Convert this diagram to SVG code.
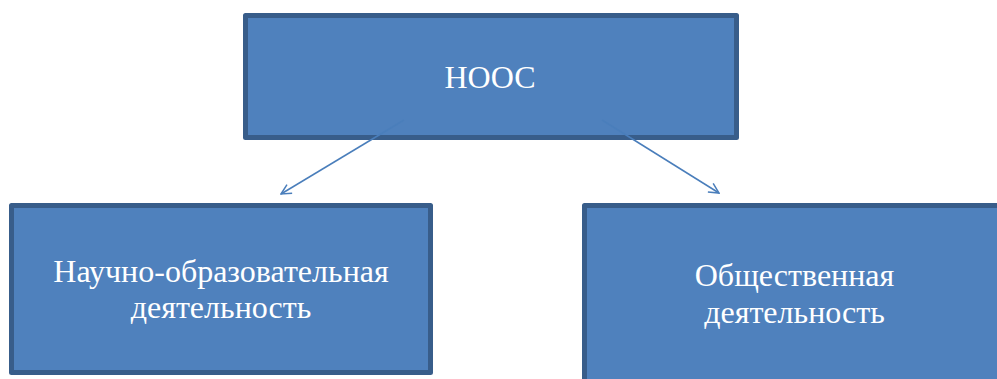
<svg xmlns="http://www.w3.org/2000/svg" width="997" height="379" viewBox="0 0 997 379">
<style>
.box{fill:#4f81bd;stroke:#385d8a;stroke-width:5;stroke-linejoin:round}
.t{font-family:"Liberation Serif","Times New Roman",serif;font-size:32px;fill:#ffffff;text-anchor:middle}
.c{stroke:#4a7ebb;stroke-width:1.5;fill:none}
</style>
<defs>
<marker id="ah" viewBox="0 0 12 12" refX="11" refY="6" markerWidth="12" markerHeight="12" markerUnits="userSpaceOnUse" orient="auto">
<path d="M1,1 L11,6 L1,11" fill="none" stroke="#4a7ebb" stroke-width="1.5"/>
</marker>
</defs>
<rect width="997" height="379" fill="#ffffff"/>
<g id="node-nooc">
<rect class="box" x="245.5" y="15.5" width="491" height="122"/>
<text class="t" x="490" y="88">НООС</text>
</g>
<g id="node-science">
<rect class="box" x="11.5" y="205.5" width="419" height="167"/>
<text class="t" x="221" y="282">Научно-образовательная</text>
<text class="t" x="221" y="318">деятельность</text>
</g>
<g id="node-social">
<rect class="box" x="584.5" y="205.5" width="420" height="180"/>
<text class="t" x="794.5" y="286">Общественная</text>
<text class="t" x="794.5" y="323">деятельность</text>
</g>
<g id="connectors">
<line class="c" x1="404" y1="120" x2="281" y2="194" marker-end="url(#ah)"/>
<line class="c" x1="602" y1="120" x2="719" y2="193" marker-end="url(#ah)"/>
</g>
</svg>
